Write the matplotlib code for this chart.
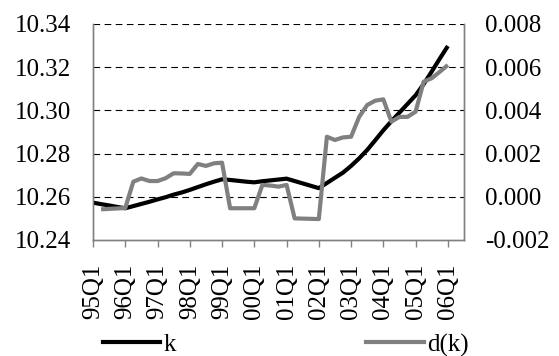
import matplotlib.pyplot as plt
from matplotlib.lines import Line2D

plt.rcParams['font.family'] = ['Liberation Serif', 'DejaVu Serif']

quarters = [f"{y:02d}Q{q}" for y in list(range(95, 100)) + list(range(0, 7))
            for q in range(1, 5)][:45]

k = [10.2573, 10.2566, 10.2560, 10.2553, 10.2547, 10.2557, 10.2567, 10.2577,
     10.2588, 10.2598, 10.2610, 10.2620, 10.2632, 10.2645, 10.2658, 10.2670,
     10.2681, 10.2678, 10.2674, 10.2670, 10.2667, 10.2672, 10.2676, 10.2680,
     10.2684, 10.2673, 10.2662, 10.2651, 10.2640, 10.2664, 10.2688, 10.2712,
     10.2743, 10.2778, 10.2817, 10.2862, 10.2908, 10.2950, 10.2990, 10.3030,
     10.3070, 10.3122, 10.3180, 10.3240, 10.3298]

# d(k) starts one quarter later (first difference)
dk = [-0.00058, -0.00056, -0.00054, -0.00052, 0.00070, 0.00085, 0.00073, 0.00073,
      0.00086, 0.00109, 0.00108, 0.00106, 0.00152, 0.00143, 0.00155, 0.00158,
      -0.00053, -0.00053, -0.00053, -0.00053, 0.00055, 0.00052, 0.00047, 0.00055,
      -0.00100, -0.00101, -0.00102, -0.00103, 0.00278, 0.00263, 0.00275, 0.00278,
      0.00370, 0.00425, 0.00445, 0.00451, 0.00348, 0.00370, 0.00370, 0.00394,
      0.00533, 0.00549, 0.00579, 0.00610]

left_ticks = [10.24, 10.26, 10.28, 10.30, 10.32, 10.34]
right_ticks = [-0.002, 0.000, 0.002, 0.004, 0.006, 0.008]

fig = plt.figure(figsize=(5.59, 3.56), dpi=100)
ax = fig.add_axes([93 / 559, 1 - 240 / 356, 371 / 559, 216 / 356])
ax2 = ax.twinx()

x = list(range(len(k)))
ax.plot(x, k, color='black', lw=3, solid_capstyle='butt', zorder=3)
ax2.plot(x[1:], dk, color='#808080', lw=3, solid_capstyle='butt', zorder=3)

ax.set_xlim(0, 46)
ax.set_ylim(10.24, 10.34)
ax2.set_ylim(-0.002, 0.008)

ax.set_yticks(left_ticks)
ax.set_yticklabels([f"{v:.2f}" for v in left_ticks])
ax2.set_yticks(right_ticks)
ax2.set_yticklabels([f"{v:.3f}" for v in right_ticks])

ax.set_xticks(x[::4])
ax.set_xticklabels(quarters[::4], rotation=90)

for v in left_ticks[1:]:
    ax.axhline(v, color='black', lw=0.8, ls=(0, (6, 4)), zorder=1)

for a in (ax, ax2):
    a.spines['top'].set_visible(False)
    for s in a.spines.values():
        s.set_color('#808080')
        s.set_linewidth(1)

ax.tick_params(axis='y', length=0, pad=16, labelsize=18)
ax2.tick_params(axis='y', length=0, pad=15, labelsize=18)
ax.tick_params(axis='x', length=5, width=1, color='#808080', pad=12, labelsize=18)

handles = [Line2D([], [], color='black', lw=3),
           Line2D([], [], color='#808080', lw=3)]
fig.legend(handles, ['k', 'd(k)'], ncol=2, frameon=False, fontsize=18,
           loc='lower left', bbox_to_anchor=(80 / 559, -0.065),
           handlelength=2.3, handletextpad=0.15, columnspacing=7.6)

fig.savefig('out.png', dpi=100)
